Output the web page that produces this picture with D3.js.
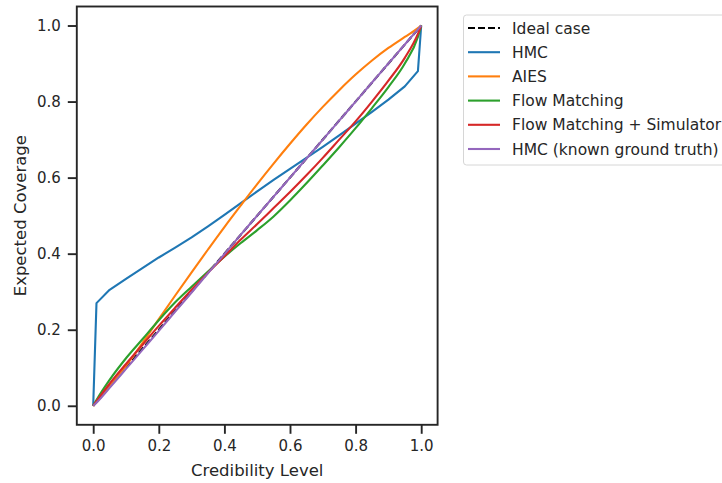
<!DOCTYPE html>
<html>
<head>
<meta charset="utf-8">
<script src="https://cdn.jsdelivr.net/npm/d3@7"></script>
<style>
  body { margin: 0; background: #fff; }
  svg { font-family: "DejaVu Sans", sans-serif; }
</style>
</head>
<body>
<svg id="coverage" width="722" height="483"></svg>
<script>
// credibility levels shared by all the estimated curves
const levels = [0, 0.01, 0.05, 0.1, 0.15, 0.2, 0.25, 0.3, 0.35, 0.4, 0.45, 0.5, 0.55, 0.6, 0.65, 0.7, 0.75, 0.8, 0.85, 0.9, 0.95, 0.99, 1];
const idealLevels = [0, 1];
const idealCoverage = [0, 1];
const hmc = [0, 0.27, 0.305, 0.334, 0.362, 0.39, 0.416, 0.443, 0.472, 0.502, 0.533, 0.564, 0.594, 0.623, 0.652, 0.681, 0.711, 0.742, 0.773, 0.805, 0.84, 0.88, 1];
const aies = [0, 0.01, 0.05, 0.105, 0.165, 0.228, 0.29, 0.351, 0.411, 0.47, 0.527, 0.583, 0.637, 0.689, 0.739, 0.786, 0.83, 0.871, 0.908, 0.941, 0.97, 0.993, 1];
const flowMatching = [0, 0.015, 0.068, 0.125, 0.175, 0.225, 0.272, 0.313, 0.353, 0.392, 0.428, 0.462, 0.498, 0.54, 0.585, 0.632, 0.68, 0.73, 0.783, 0.838, 0.9, 0.97, 1];
const flowMatchingSim = [0, 0.012, 0.058, 0.11, 0.16, 0.21, 0.258, 0.305, 0.35, 0.393, 0.437, 0.478, 0.52, 0.562, 0.606, 0.652, 0.7, 0.748, 0.8, 0.855, 0.915, 0.978, 1];
const hmcKnown = [0, 0.008, 0.047, 0.097, 0.147, 0.197, 0.248, 0.298, 0.349, 0.399, 0.45, 0.5, 0.55, 0.6, 0.65, 0.7, 0.75, 0.8, 0.85, 0.9, 0.95, 0.99, 1];
const seriesNames = ["Ideal case", "HMC", "AIES", "Flow Matching", "Flow Matching + Simulator", "HMC (known ground truth)"];
const xTicks = [0, 0.2, 0.4, 0.6, 0.8, 1.0];
const yTicks = [0, 0.2, 0.4, 0.6, 0.8, 1.0];

const svg = d3.select("svg#coverage");
const ink = "#262626";
const plotLeft = 76.8, plotRight = 437.6, plotTop = 6.5, plotBottom = 424.8;

const xScale = d3.scaleLinear().domain([-0.05, 1.05]).range([plotLeft, plotRight]);
const yScale = d3.scaleLinear().domain([-0.05, 1.05]).range([plotBottom, plotTop]);

// HMC keeps its sharp corners, the others are smooth curves
const series = [
  {name: seriesNames[0], x: idealLevels, y: idealCoverage, color: "#000000", dash: "7,3", curve: d3.curveLinear},
  {name: seriesNames[1], x: levels, y: hmc, color: "#1f77b4", curve: d3.curveLinear},
  {name: seriesNames[2], x: levels, y: aies, color: "#ff7f0e", curve: d3.curveMonotoneX},
  {name: seriesNames[3], x: levels, y: flowMatching, color: "#2ca02c", curve: d3.curveMonotoneX},
  {name: seriesNames[4], x: levels, y: flowMatchingSim, color: "#d62728", curve: d3.curveMonotoneX},
  {name: seriesNames[5], x: levels, y: hmcKnown, color: "#9467bd", curve: d3.curveMonotoneX}
];

svg.append("g").selectAll("path")
  .data(series)
  .enter()
  .append("path")
  .attr("d", s => d3.line().x(d => xScale(d[0])).y(d => yScale(d[1])).curve(s.curve)(s.x.map((v, i) => [v, s.y[i]])))
  .attr("fill", "none")
  .attr("stroke", s => s.color)
  .attr("stroke-width", 2.1)
  .attr("stroke-linejoin", "round")
  .attr("stroke-dasharray", s => s.dash || null);

// axes
const xAxis = svg.append("g")
  .attr("transform", `translate(0,${plotBottom})`)
  .call(d3.axisBottom(xScale).tickValues(xTicks).tickFormat(d3.format(".1f")).tickSize(9).tickPadding(7).tickSizeOuter(0));
const yAxis = svg.append("g")
  .attr("transform", `translate(${plotLeft},0)`)
  .call(d3.axisLeft(yScale).tickValues(yTicks).tickFormat(d3.format(".1f")).tickSize(9).tickPadding(7).tickSizeOuter(0));
[xAxis, yAxis].forEach(a => {
  a.select(".domain").remove();
  a.selectAll(".tick line").attr("stroke", ink).attr("stroke-width", 1.9);
  a.selectAll(".tick text").attr("fill", ink).style("font-size", "15px").style("font-family", "DejaVu Sans");
});

// frame
svg.append("rect")
  .attr("x", plotLeft).attr("y", plotTop)
  .attr("width", plotRight - plotLeft).attr("height", plotBottom - plotTop)
  .attr("fill", "none").attr("stroke", ink).attr("stroke-width", 1.9);

svg.append("text")
  .text("Credibility Level")
  .attr("x", (plotLeft + plotRight) / 2)
  .attr("y", 475.5)
  .attr("text-anchor", "middle")
  .attr("fill", ink)
  .style("font-size", "16.5px");
svg.append("text")
  .text("Expected Coverage")
  .attr("transform", `translate(25.5,${(plotTop + plotBottom) / 2}) rotate(-90)`)
  .attr("text-anchor", "middle")
  .attr("fill", ink)
  .style("font-size", "16.5px");

// legend
const legend = svg.append("g");
legend.append("rect")
  .attr("x", 463.5).attr("y", 15)
  .attr("width", 300).attr("height", 150)
  .attr("rx", 3)
  .attr("fill", "#fff").attr("stroke", "#d6d6d6").attr("stroke-width", 1);
const rows = legend.selectAll("g.row")
  .data(series)
  .enter()
  .append("g")
  .attr("class", "row")
  .attr("transform", (d, i) => `translate(0,${28 + i * 24.2})`);
rows.append("line")
  .attr("x1", 468).attr("x2", 500)
  .attr("stroke", d => d.color)
  .attr("stroke-width", 2.1)
  .attr("stroke-dasharray", d => d.dash || null);
rows.append("text")
  .text(d => d.name)
  .attr("x", 512)
  .attr("y", 5.5)
  .attr("fill", ink)
  .style("font-size", "15.5px");
</script>
</body>
</html>
